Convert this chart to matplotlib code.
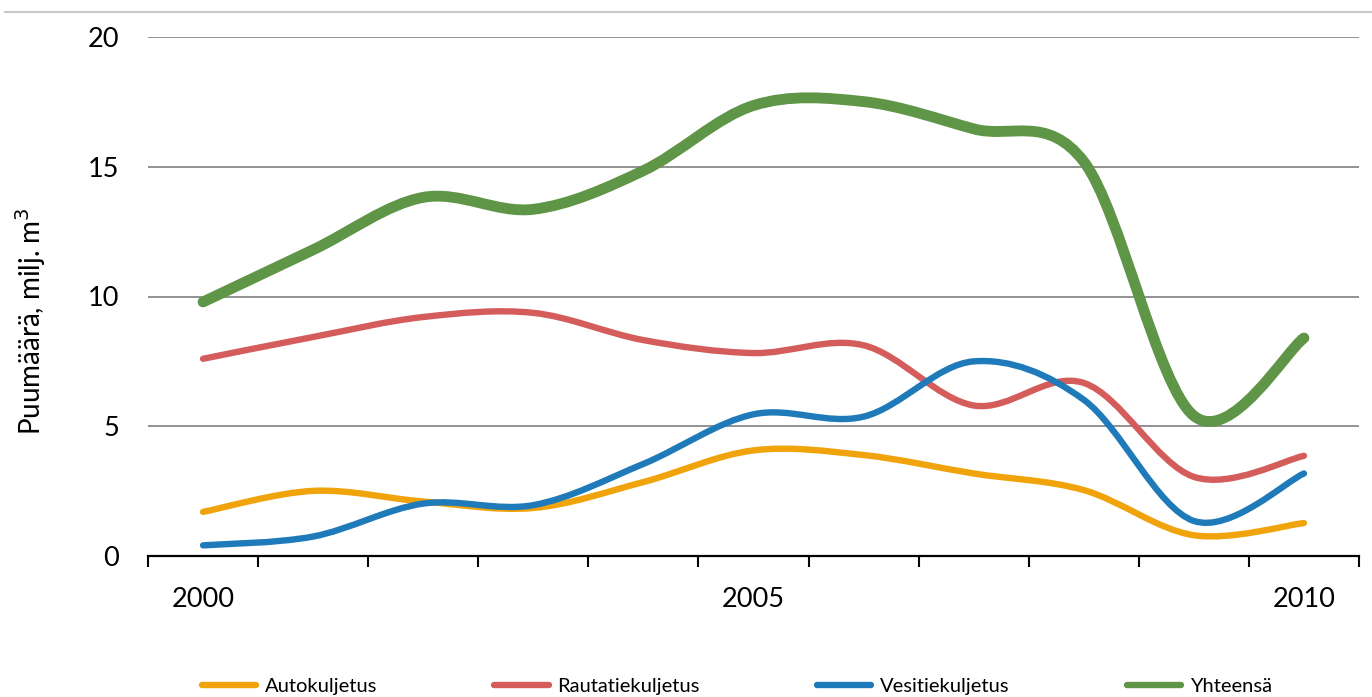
import numpy as np
import matplotlib
matplotlib.use("Agg")
import matplotlib.pyplot as plt
from matplotlib.path import Path
from matplotlib.patches import PathPatch
from matplotlib.lines import Line2D

plt.rcParams["font.family"] = ["Lato", "DejaVu Sans"]

years = ["2000", "2001", "2002", "2003", "2004", "2005",
         "2006", "2007", "2008", "2009", "2010"]
auto = [1.70, 2.51, 2.10, 1.85, 2.85, 4.07, 3.89, 3.18, 2.54, 0.80, 1.27]
rautatie = [7.60, 8.44, 9.21, 9.37, 8.32, 7.82, 8.12, 5.80, 6.67, 3.05, 3.86]
vesitie = [0.41, 0.75, 2.02, 1.96, 3.55, 5.46, 5.37, 7.50, 6.02, 1.35, 3.18]
yhteensa = [9.79, 11.8, 13.82, 13.36, 14.85, 17.36, 17.51, 16.46, 15.2, 5.4, 8.40]

series = [
    ("Autokuljetus", auto, "#F0A30A", 4.6),
    ("Rautatiekuljetus", rautatie, "#D45D5C", 4.6),
    ("Vesitiekuljetus", vesitie, "#1E7AB8", 4.6),
    ("Yhteensä", yhteensa, "#5E9546", 7.8),
]


def smooth_path(xs, ys):
    # Excel-style smoothed line: Catmull-Rom as cubic Bezier segments
    pts = np.column_stack([xs, ys]).astype(float)
    ext = np.vstack([pts[0], pts, pts[-1]])
    verts = [pts[0]]
    codes = [Path.MOVETO]
    for i in range(len(pts) - 1):
        p0, p1, p2, p3 = ext[i], ext[i + 1], ext[i + 2], ext[i + 3]
        c1 = p1 + (p2 - p0) / 6.0
        c2 = p2 - (p3 - p1) / 6.0
        verts += [c1, c2, p2]
        codes += [Path.CURVE4] * 3
    return Path(verts, codes)


fig = plt.figure(figsize=(13.72, 6.97), dpi=100)
ax = fig.add_axes([148 / 1372, 1 - 556 / 697, (1359 - 148) / 1372, (556 - 37) / 697])

x = np.arange(len(years))
for label, vals, color, lw in series:
    patch = PathPatch(smooth_path(x, vals), fill=False, edgecolor=color,
                      lw=lw, capstyle="round", joinstyle="round", zorder=3)
    ax.add_patch(patch)

ax.set_xlim(-0.5, len(years) - 0.5)
ax.set_ylim(0, 20)
ax.set_yticks([0, 5, 10, 15, 20])
ax.tick_params(axis="y", length=0, pad=21, labelsize=19.5, labelcolor="#000000")
ax.grid(axis="y", color="#7f7f7f", lw=1.2, zorder=1)
ax.set_axisbelow(True)

ax.set_xticks(np.arange(-0.5, len(years), 1.0))
ax.set_xticklabels([])
ax.tick_params(axis="x", which="major", length=8, width=1.5, direction="out", color="#000000")
ax.set_xticks([0, 5, 10], minor=True)
ax.set_xticklabels([years[0], years[5], years[10]], minor=True)
ax.tick_params(axis="x", which="minor", length=0, pad=22, labelsize=19.5)

for s in ["left", "right", "top"]:
    ax.spines[s].set_visible(False)
ax.spines["bottom"].set_color("#000000")
ax.spines["bottom"].set_linewidth(1.6)
ax.spines["bottom"].set_zorder(4)

fig.text(31 / 1372, 1 - 321 / 697, "Puumäärä, milj. m$^3$", rotation=90,
         ha="center", va="center", fontsize=20)

fig.add_artist(Line2D([5 / 1372, 1.0], [1 - 12 / 697, 1 - 12 / 697],
                      color="#c8c8c8", lw=1.5))

handles = [Line2D([], [], color=c, lw=4.6, solid_capstyle="round") for _, _, c, _ in series]
fig.legend(handles, [s[0] for s in series], loc="center", ncol=4,
           bbox_to_anchor=(0.537, 1 - 686 / 697), frameon=False, fontsize=14.5,
           handlelength=2.7, handletextpad=0.45, columnspacing=5.8)

fig.savefig("out.png", dpi=100)
